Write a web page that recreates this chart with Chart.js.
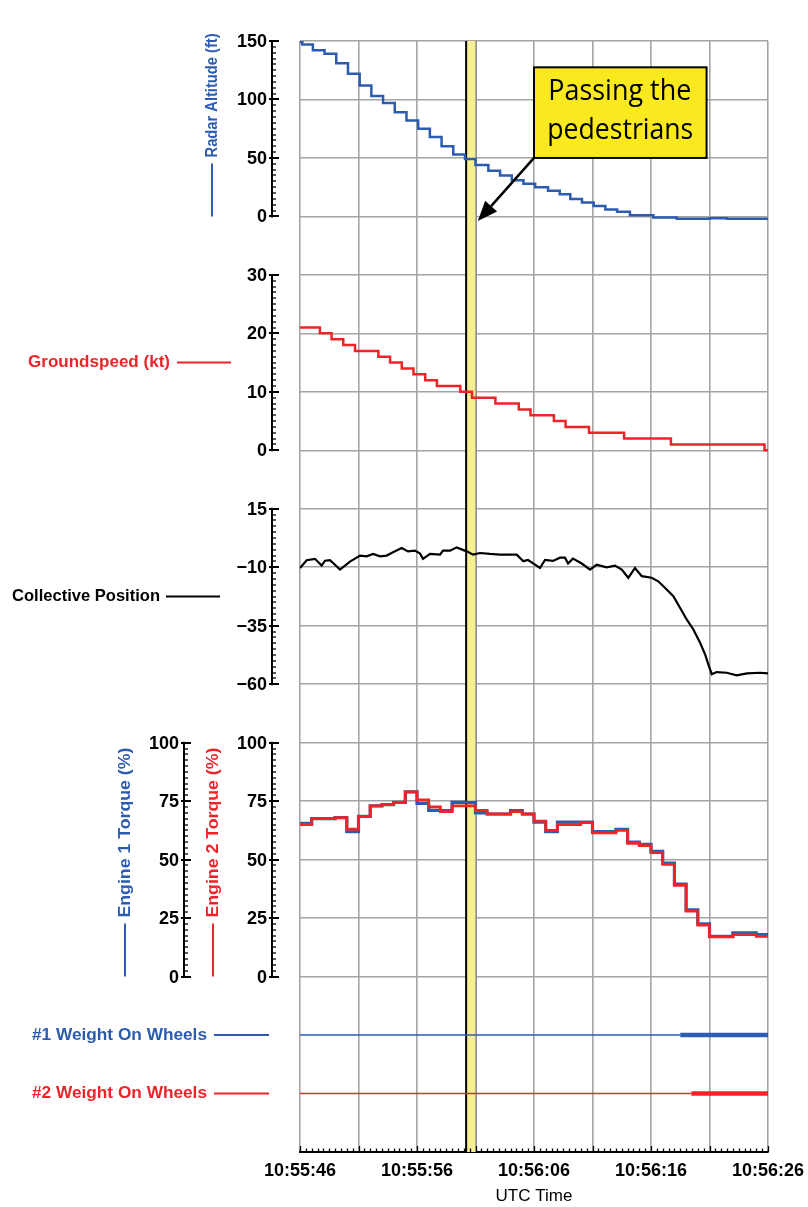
<!DOCTYPE html>
<html>
<head>
<meta charset="utf-8">
<script src="https://cdn.jsdelivr.net/npm/chart.js@4.4.0/dist/chart.umd.min.js"></script>
<style>
  html, body { margin: 0; padding: 0; background: #fff; }
  #wrap { position: relative; width: 808px; height: 1207px; }
</style>
</head>
<body>
<div id="wrap"><canvas id="myChart"></canvas></div>
<script>
// time is seconds after 10:55:46 UTC
var radarT  = [0, 0.2, 1.1, 2.1, 3.1, 4.1, 5.1, 6.1, 7.1, 8.1, 9.1, 10.1, 11.1, 12.1, 13.1, 14.1, 15.0, 16.1, 17.1, 18.1, 19.1, 20.1, 21.2, 22.2, 23.1, 24.1, 25.1, 26.1, 27.1, 28.2, 30.2, 32.2, 35.0, 36.5, 40];
var radarFt = [149, 147, 142, 139, 131, 122, 112, 103, 97, 89, 82, 75, 68, 60, 53, 49, 44, 39, 35, 31, 28, 25, 22, 19, 15, 12, 9, 6, 4, 1, -1, -2, -1.5, -2, -2];

var gsT  = [0, 1.7, 2.7, 3.7, 4.7, 6.7, 7.7, 8.7, 9.7, 10.7, 11.7, 13.7, 14.7, 16.7, 18.7, 19.7, 21.7, 22.7, 24.7, 27.7, 31.7, 39.7, 40];
var gsKt = [21, 20, 19, 18, 17, 16, 15, 14, 13, 12, 11, 10, 9, 8, 7, 6, 5, 4, 3, 2, 1, 0, 0];

var collT = [0, 0.57, 1.28, 1.85, 2.14, 2.56, 2.85, 3.42, 4.27, 5.13, 5.7, 6.24, 6.84, 7.41, 7.95, 8.69, 9.23, 9.83, 10.26, 10.51,
  11.11, 11.97, 12.22, 12.82, 13.39, 14.25, 14.79, 15.38, 16.24, 17.09, 18.52, 19.09, 19.49, 20.09, 20.51, 20.94, 21.62, 22.22,
  22.65, 22.91, 23.33, 24.08, 24.79, 25.36, 26.21, 26.92, 27.5, 28.06, 28.63, 29.21, 30.06, 30.62, 31.34, 31.91, 32.48, 33.05,
  33.62, 34.19, 34.62, 34.9, 35.19, 35.61, 36.47, 37.33, 38.2, 39.32, 40];
var collPos = [-10.3, -7, -6.4, -9.3, -7.2, -7, -8.3, -11, -7.6, -5, -5.3, -4.3, -5.3, -5, -3.6, -1.8, -3.2, -2.9, -4.1, -6.4,
  -4.3, -4.6, -2.9, -2.9, -1.5, -3.2, -4.6, -3.9, -4.3, -4.6, -4.6, -7.4, -6.9, -8.9, -10.3, -6.9, -7.3, -5.9,
  -5.9, -8.4, -6.3, -8.4, -11, -8.9, -10, -9.3, -11, -14.5, -10.3, -13.8, -14.5, -16, -19.5, -22.4, -27.3, -32.3,
  -36.6, -42.2, -47.2, -51.5, -55.7, -54.8, -55.1, -56.2, -55.4, -55.1, -55.4];

var torqueT = [0, 1, 2, 3, 4, 5, 6, 7, 8, 9, 10, 11, 12, 13, 14, 15, 16, 17, 18, 19, 20,
  21, 22, 23, 24, 25, 26, 27, 28, 29, 30, 31, 32, 33, 34, 35, 36, 37, 38, 39, 40];
var eng1Torque = [65.5, 67.5, 67.5, 68, 62, 68.5, 73, 73.5, 74.5, 79, 74, 71, 71, 74.5, 74.5, 70, 69.5, 69.5, 71, 69.5,
  66, 62, 66, 66, 66, 62, 62, 63, 57.5, 56.5, 53.5, 48.5, 39.5, 28.5, 22.5, 17.2, 17.2, 18.7, 18.7, 17.9, 17.9];
var eng2Torque = [65, 67.5, 67.5, 68, 63, 68.5, 73, 73.5, 74.5, 79, 75.5, 72.5, 70.5, 73, 73, 71, 69.5, 69.5, 70.5, 69.5,
  66.5, 62.5, 65, 65, 65.8, 61.5, 61.5, 62.5, 57, 56, 53, 48, 39, 28, 22, 17, 17, 18, 18, 17.2, 17.2];

// weight on wheels: 0 = off, 1 = on
var wow1T = [0, 32.5, 40];
var wow1On = [0, 1, 1];
var wow2T = [0, 33.45, 40];
var wow2On = [0, 1, 1];

var radarTicks = [0, 50, 100, 150];
var gsTicks = [0, 10, 20, 30];
var collTicks = [-60, -35, -10, 15];
var torqueTicks = [0, 25, 50, 75, 100];
var timeTicks = [0, 5, 10, 15, 20, 25, 30, 35, 40];

var passingT = [14.2, 15.05];

var BLUE = '#2c5cb0', RED = '#ee2428', GRID = '#a4a4a4';
var FAMILY = '"Liberation Sans", Arial, sans-serif';
var TICKFONT = { family: FAMILY, size: 18, weight: 'bold' };

function pts(xs, ys) {
  return xs.map(function (x, i) { return { x: x, y: ys[i] }; });
}

function pad2(n) { return (n < 10 ? '0' : '') + n; }
function utcLabel(s) {
  var t = 10 * 3600 + 55 * 60 + 46 + s;
  return Math.floor(t / 3600) + ':' + pad2(Math.floor(t % 3600 / 60)) + ':' + pad2(t % 60);
}
function fmtTick(v) { return v < 0 ? '\u2212' + Math.abs(v) : String(v); }

// every panel axis spans the full plot height; min/max put the panel in its own rows
function panelAxis(min, max, ticks, grid) {
  return {
    type: 'linear', position: 'left', min: min, max: max,
    afterBuildTicks: function (s) { s.ticks = ticks.map(function (v) { return { value: v }; }); },
    afterFit: function (s) { s.width = 0; },
    ticks: { display: false },
    grid: { display: grid, color: GRID, lineWidth: 1.6, drawTicks: false },
    border: { display: false }
  };
}

function fitText(ctx, text, x, y, w) {
  var nat = ctx.measureText(text).width;
  ctx.save();
  ctx.translate(x, y);
  ctx.scale(w / nat, 1);
  ctx.textAlign = 'left';
  ctx.fillText(text, 0, 0);
  ctx.restore();
}

function hline(ctx, x1, x2, y, color) {
  ctx.strokeStyle = color; ctx.lineWidth = 2;
  ctx.beginPath(); ctx.moveTo(x1, y); ctx.lineTo(x2, y); ctx.stroke();
}

var overlay = {
  id: 'overlay',
  beforeDatasetsDraw: function (chart) {
    var ctx = chart.ctx, a = chart.chartArea, xs = chart.scales.x;
    var x1 = xs.getPixelForValue(passingT[0]), x2 = xs.getPixelForValue(passingT[1]);
    ctx.save();
    ctx.fillStyle = '#f7ef94';
    ctx.fillRect(x1, a.top, x2 - x1, a.bottom - a.top);
    ctx.strokeStyle = '#000'; ctx.lineWidth = 2;
    ctx.beginPath(); ctx.moveTo(x1, a.top); ctx.lineTo(x1, a.bottom); ctx.stroke();
    ctx.strokeStyle = '#8c8c8c'; ctx.lineWidth = 1.5;
    ctx.beginPath(); ctx.moveTo(x2, a.top); ctx.lineTo(x2, a.bottom); ctx.stroke();
    ctx.restore();
  },
  afterDraw: function (chart) {
    var ctx = chart.ctx, a = chart.chartArea, sc = chart.scales, xs = sc.x;
    ctx.save();

    // left rulers with their tick labels
    var rulers = [
      { id: 'yRadar', x: 272 },
      { id: 'yGround', x: 272 },
      { id: 'yColl', x: 272 },
      { id: 'yE2', x: 272 },
      { id: 'yE1', x: 184 }
    ];
    ctx.strokeStyle = '#000';
    ctx.fillStyle = '#000';
    ctx.font = 'bold 18px ' + FAMILY;
    ctx.textAlign = 'right';
    ctx.textBaseline = 'middle';
    rulers.forEach(function (r) {
      var s = sc[r.id], tv = s.ticks.map(function (t) { return t.value; });
      var lo = tv[0], hi = tv[tv.length - 1];
      var step = (tv[1] - tv[0]) / 10, n = Math.round((hi - lo) / step);
      ctx.lineWidth = 2;
      ctx.beginPath(); ctx.moveTo(r.x, s.getPixelForValue(hi) - 1); ctx.lineTo(r.x, s.getPixelForValue(lo) + 1); ctx.stroke();
      for (var i = 0; i <= n; i++) {
        var y = Math.round(s.getPixelForValue(lo + i * step));
        ctx.beginPath();
        if (i % 10 === 0) { ctx.lineWidth = 2; ctx.moveTo(r.x - 3, y); ctx.lineTo(r.x + 7, y); }
        else { ctx.lineWidth = 1.3; ctx.moveTo(r.x, y); ctx.lineTo(r.x + 4, y); }
        ctx.stroke();
      }
      tv.forEach(function (v) {
        ctx.fillText(fmtTick(v), r.x - 5, s.getPixelForValue(v) + 1);
      });
    });

    // bottom ruler
    ctx.lineWidth = 1.3;
    for (var k = 0; k <= 80; k++) {
      var px = Math.round(xs.getPixelForValue(k / 2)) + 0.5;
      ctx.beginPath(); ctx.moveTo(px, a.bottom); ctx.lineTo(px, a.bottom - (k % 10 === 0 ? 6 : 3.5)); ctx.stroke();
    }

    // series labels
    ctx.textBaseline = 'middle';
    ctx.font = 'bold 17px ' + FAMILY;
    ctx.fillStyle = RED;
    var yg = (sc.yGround.getPixelForValue(0) + sc.yGround.getPixelForValue(30)) / 2;
    fitText(ctx, 'Groundspeed (kt)', 28, yg, 142); hline(ctx, 177, 231, yg, RED);
    ctx.fillStyle = '#000';
    var yc = (sc.yColl.getPixelForValue(-60) + sc.yColl.getPixelForValue(15)) / 2;
    fitText(ctx, 'Collective Position', 12, yc, 148); hline(ctx, 166, 220, yc, '#000');
    var yw1 = sc.yWow.getPixelForValue(2), yw2 = sc.yWow.getPixelForValue(1);
    ctx.fillStyle = BLUE; fitText(ctx, '#1 Weight On Wheels', 32, yw1, 175); hline(ctx, 214, 269, yw1, BLUE);
    ctx.fillStyle = RED; fitText(ctx, '#2 Weight On Wheels', 32, yw2, 175); hline(ctx, 214, 269, yw2, RED);

    // rotated labels
    function vlabel(text, cx, yb, len, color) {
      ctx.save();
      ctx.translate(cx, yb);
      ctx.rotate(-Math.PI / 2);
      hline(ctx, 0, 53, 0, color);
      ctx.fillStyle = color;
      fitText(ctx, text, 59, 0, len);
      ctx.restore();
    }
    ctx.font = 'bold 17px ' + FAMILY;
    vlabel('Radar Altitude (ft)', 212, sc.yRadar.getPixelForValue(0), 124, BLUE);
    vlabel('Engine 1 Torque (%)', 125, sc.yE1.getPixelForValue(0), 170, BLUE);
    vlabel('Engine 2 Torque (%)', 213, sc.yE2.getPixelForValue(0), 170, RED);

    // callout
    var bl = xs.getPixelForValue(20), br = xs.getPixelForValue(34.75);
    var bt = sc.yRadar.getPixelForValue(127.5), bb = sc.yRadar.getPixelForValue(50);
    ctx.fillStyle = '#fbe91f';
    ctx.fillRect(bl, bt, br - bl, bb - bt);
    ctx.strokeStyle = '#000'; ctx.lineWidth = 2;
    ctx.strokeRect(bl, bt, br - bl, bb - bt);
    ctx.fillStyle = '#000';
    ctx.font = '29px "Open Sans", "Noto Sans", sans-serif';
    ctx.textAlign = 'left';
    var cxm = (bl + br) / 2, h = bb - bt;
    fitText(ctx, 'Passing the', cxm - 72, bt + h * 0.27, 143);
    fitText(ctx, 'pedestrians', cxm - 73, bt + h * 0.70, 146);

    // arrow
    var tx = xs.getPixelForValue(15.2), ty = sc.yRadar.getPixelForValue(-4);
    var ang = Math.atan2(ty - bb, tx - bl), hl = 20, hw = 8;
    var bx = tx - hl * Math.cos(ang), by = ty - hl * Math.sin(ang);
    ctx.lineWidth = 2.5;
    ctx.beginPath(); ctx.moveTo(bl, bb); ctx.lineTo(bx, by); ctx.stroke();
    ctx.beginPath();
    ctx.moveTo(tx, ty);
    ctx.lineTo(bx + hw * Math.sin(ang), by - hw * Math.cos(ang));
    ctx.lineTo(bx - hw * Math.sin(ang), by + hw * Math.cos(ang));
    ctx.closePath(); ctx.fill();

    ctx.restore();
  }
};

var lineBase = { pointRadius: 0, fill: false, tension: 0 };

createChart = () => {
  chart = new Chart(document.getElementById('myChart'), {
    type: 'line',
    data: {
      datasets: [
        Object.assign({ data: pts(radarT, radarFt), yAxisID: 'yRadar', borderColor: BLUE, borderWidth: 2.5, stepped: true, order: 1 }, lineBase),
        Object.assign({ data: pts(gsT, gsKt), yAxisID: 'yGround', borderColor: RED, borderWidth: 2.5, stepped: true, order: 1 }, lineBase),
        Object.assign({ data: pts(collT, collPos), yAxisID: 'yColl', borderColor: '#000', borderWidth: 2.2, order: 1 }, lineBase),
        Object.assign({ data: pts(torqueT, eng1Torque), yAxisID: 'yE1', borderColor: BLUE, borderWidth: 3.2, stepped: true, order: 2 }, lineBase),
        Object.assign({ data: pts(torqueT, eng2Torque), yAxisID: 'yE2', borderColor: RED, borderWidth: 2.8, stepped: true, order: 0 }, lineBase),
        Object.assign({ data: wow1T.map(function (t) { return { x: t, y: 2 }; }), yAxisID: 'yWow', borderColor: BLUE, order: 1,
          segment: { borderWidth: function (c) { return wow1On[c.p0DataIndex] ? 4.5 : 1.5; } } }, lineBase),
        Object.assign({ data: wow2T.map(function (t) { return { x: t, y: 1 }; }), yAxisID: 'yWow', borderColor: RED, order: 1,
          segment: { borderWidth: function (c) { return wow2On[c.p0DataIndex] ? 4.5 : 1.5; } } }, lineBase)
      ]
    },
    options: {
      responsive: true,
      maintainAspectRatio: false,
      animation: false,
      layout: { padding: { left: 300, right: 40, top: 41, bottom: 0 } },
      plugins: { legend: { display: false }, tooltip: { enabled: false } },
      scales: {
        x: {
          type: 'linear', min: 0, max: 40,
          afterBuildTicks: function (s) { s.ticks = timeTicks.map(function (v) { return { value: v }; }); },
          afterFit: function (s) { s.height = 55; s.paddingLeft = 0; s.paddingRight = 0; },
          ticks: { padding: 8, font: TICKFONT, color: '#000', autoSkip: false, maxRotation: 0, minRotation: 0,
            callback: function (v) { return v % 10 === 0 ? utcLabel(v) : ''; } },
          grid: { color: GRID, lineWidth: 1.6, drawTicks: false },
          border: { display: true, color: '#000', width: 2 },
          title: { display: true, text: 'UTC Time', color: '#000',
            font: { family: FAMILY, size: 17 }, padding: { top: 0, bottom: 0 } }
        },
        yRadar: panelAxis(-800, 150, radarTicks, true),
        yGround: panelAxis(-120, 70, gsTicks, true),
        yColl: panelAxis(-260, 215, collTicks, true),
        yE2: panelAxis(-75, 400, torqueTicks, true),
        yE1: panelAxis(-75, 400, torqueTicks, false),
        yWow: panelAxis(0, 19, [], false)
      }
    },
    plugins: [overlay]
  });
};

createChart();
</script>
</body>
</html>
